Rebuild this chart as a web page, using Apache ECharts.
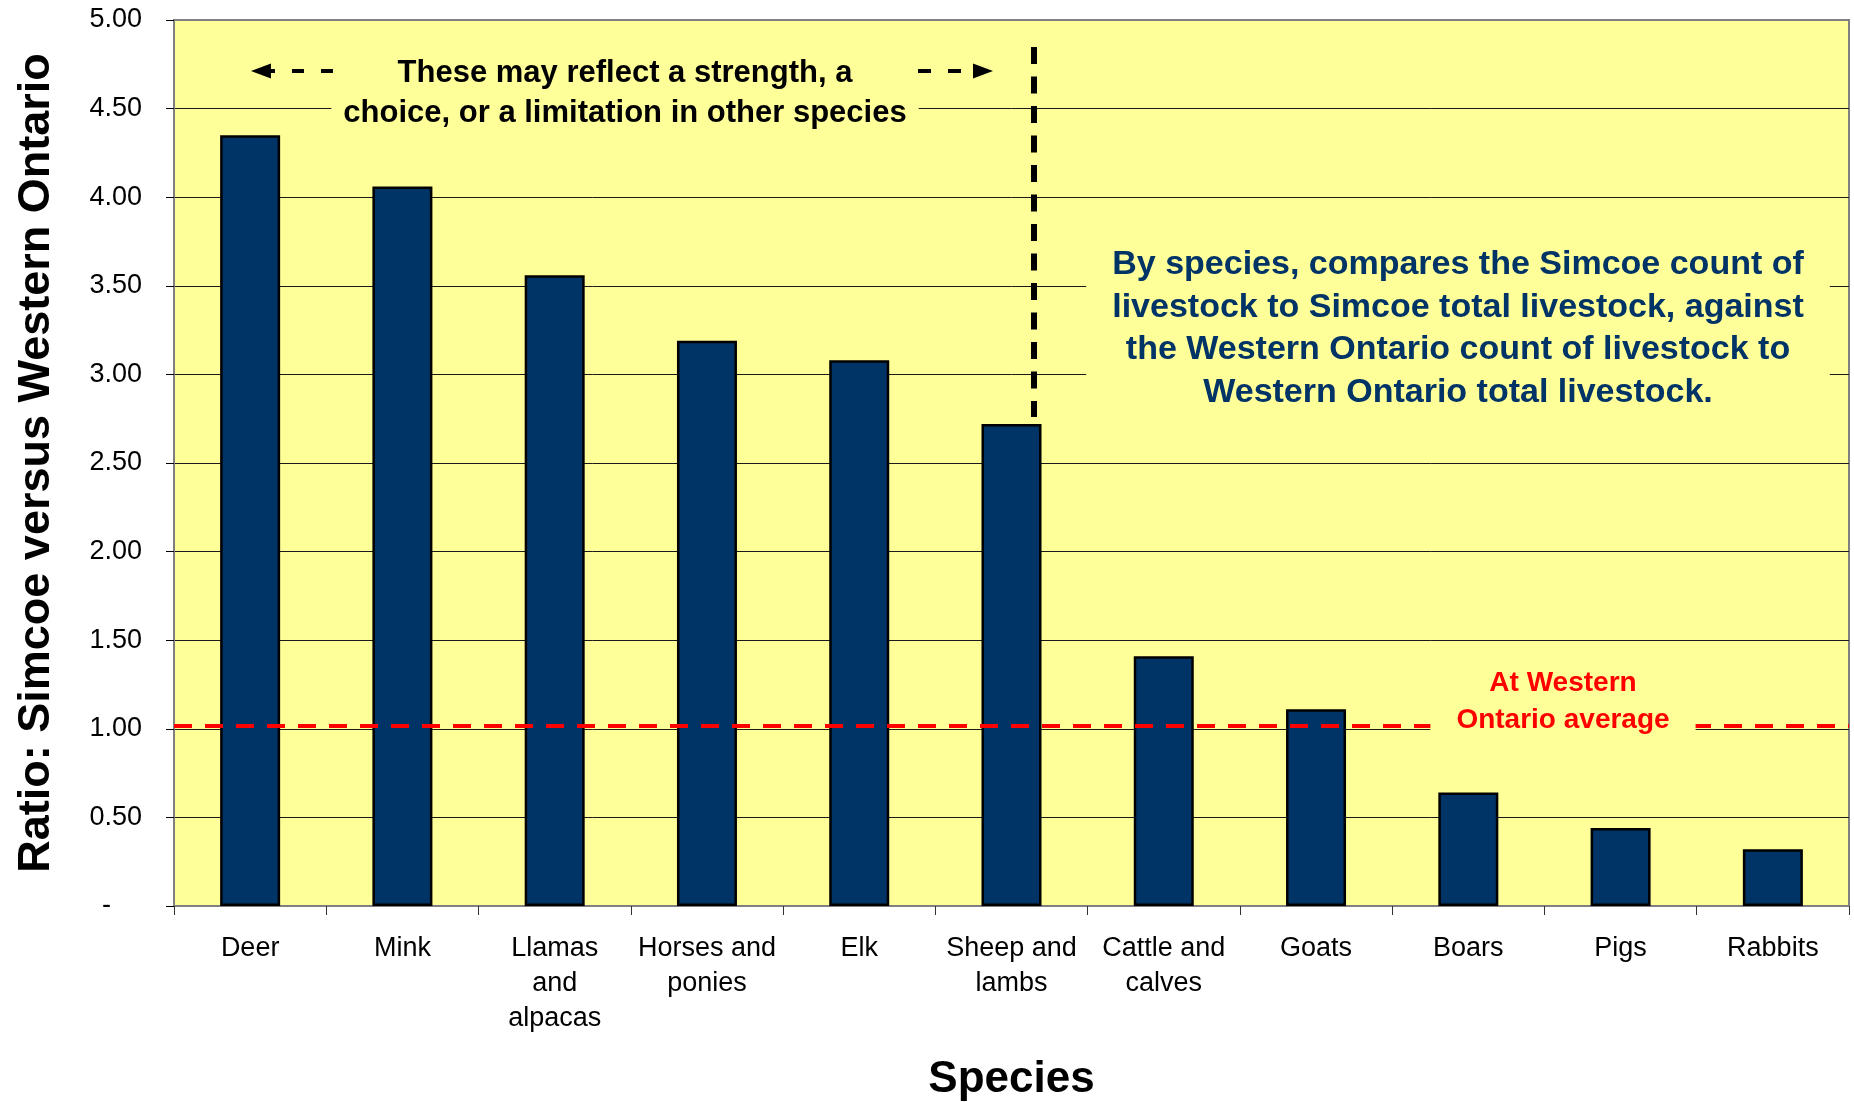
<!DOCTYPE html>
<html>
<head>
<meta charset="utf-8">
<title>Ratio: Simcoe versus Western Ontario by species</title>
<script src="https://cdn.jsdelivr.net/npm/echarts@6/dist/echarts.min.js"></script>
<style>
  html, body { margin: 0; padding: 0; background: #ffffff; }
  #chart { width: 1854px; height: 1102px; }
</style>
</head>
<body>
<div id="chart"></div>
<script>
// Species (x categories) and the Simcoe / Western Ontario livestock share ratio
const species = [
  'Deer', 'Mink', 'Llamas\nand\nalpacas', 'Horses and\nponies', 'Elk',
  'Sheep and\nlambs', 'Cattle and\ncalves', 'Goats', 'Boars', 'Pigs', 'Rabbits'
];
const ratios = [4.35, 4.06, 3.56, 3.19, 3.08, 2.72, 1.41, 1.11, 0.64, 0.44, 0.32];

// Value-axis ticks
const yTicks = { min: 0, max: 5, step: 0.5 };

// Reference level for the Western Ontario average
const averageLevel = [1.02];

const FONT = '"Liberation Sans", Arial, sans-serif';
const plotYellow = '#FFFF99';

// Divider between the over-represented species and the rest,
// placed on a hidden 0..11 helper axis that spans the category band.
const divider = { x: 5.648, top: 4.848, bottom: 2.76 };
const arrowLeft = { from: 1.044, to: 0.571, y: 4.712 };
const arrowRight = { from: 4.886, to: 5.313, y: 4.712 };

const chart = echarts.init(document.getElementById('chart'), null, { renderer: 'canvas' });

const annotationLine = (x1, y1, x2, y2, symbols, style) => ([
  { coord: [x1, y1], symbol: symbols[0] },
  { coord: [x2, y2], symbol: symbols[1], lineStyle: style }
]);

chart.setOption({
  animation: false,
  backgroundColor: '#ffffff',
  textStyle: { fontFamily: FONT },
  grid: {
    left: 174, right: 5, top: 20, bottom: 196,
    outerBoundsMode: 'none',
    containLabel: false,
    show: true,
    backgroundColor: plotYellow,
    borderColor: '#808080',
    borderWidth: 2
  },
  xAxis: [
    {
      type: 'category',
      data: species,
      boundaryGap: true,
      name: 'Species',
      nameLocation: 'middle',
      nameGap: 152,
      nameTextStyle: { fontFamily: FONT, fontSize: 44, fontWeight: 'bold', color: '#000' },
      axisLine: { show: true, lineStyle: { color: '#808080', width: 2 } },
      axisTick: { show: true, length: 9, lineStyle: { color: '#333', width: 1 } },
      axisLabel: {
        interval: 0, fontFamily: FONT, fontSize: 27, color: '#000',
        margin: 25, lineHeight: 35, align: 'center'
      },
      splitLine: { show: false }
    },
    {
      type: 'value', min: 0, max: 11, show: false,
      axisLine: { show: false }, splitLine: { show: false }
    }
  ],
  yAxis: {
    type: 'value',
    min: yTicks.min, max: yTicks.max, interval: yTicks.step,
    name: 'Ratio: Simcoe versus Western Ontario',
    nameLocation: 'middle',
    nameGap: 115,
    nameTextStyle: { fontFamily: FONT, fontSize: 45, fontWeight: 'bold', color: '#000' },
    axisLine: { show: true, lineStyle: { color: '#808080', width: 2 } },
    axisTick: { show: true, inside: false, length: 8, lineStyle: { color: '#000', width: 1 } },
    axisLabel: {
      fontFamily: FONT, fontSize: 27, color: '#000', margin: 32,
      formatter: v => (v === 0 ? '{d|-}' : v.toFixed(2)),
      rich: { d: { fontFamily: FONT, fontSize: 27, color: '#000', padding: [0, 31, 0, 0] } }
    },
    splitLine: { show: true, showMaxLine: false, lineStyle: { color: '#1a1a1a', width: 1 } }
  },
  series: [
    {
      name: 'Ratio',
      type: 'bar',
      data: ratios,
      barWidth: 60,
      itemStyle: { color: '#003366', borderColor: '#000000', borderWidth: 2.5 },
      emphasis: { disabled: true },
      markLine: {
        silent: true,
        symbol: 'none',
        label: { show: false },
        lineStyle: { color: '#FF0000', width: 4, type: [18, 13], cap: 'butt' },
        data: averageLevel.map(v => ({ yAxis: v }))
      }
    },
    {
      name: 'Guides',
      type: 'line',
      xAxisIndex: 1,
      yAxisIndex: 0,
      data: [],
      z: 60,
      markLine: {
        silent: true,
        z: 60,
        label: { show: false },
        symbolSize: [15, 20],
        lineStyle: { color: '#000', width: 4, type: [12, 17], cap: 'butt' },
        data: [
          annotationLine(divider.x, divider.top, divider.x, divider.bottom, ['none', 'none'],
            { color: '#000', width: 6, type: [17, 12.5], cap: 'butt' }),
          annotationLine(arrowLeft.from, arrowLeft.y, arrowLeft.to, arrowLeft.y, ['none', 'triangle'],
            { color: '#000', width: 4, type: [12, 17], cap: 'butt' }),
          annotationLine(arrowRight.from, arrowRight.y, arrowRight.to, arrowRight.y, ['none', 'triangle'],
            { color: '#000', width: 4, type: [13, 17], cap: 'butt' })
        ]
      }
    }
  ],
  graphic: [
    {
      type: 'text', z: 50,
      x: 625, y: 93.5,
      style: {
        text: 'These may reflect a strength, a\nchoice, or a limitation in other species',
        font: 'bold 31px ' + FONT,
        fill: '#000',
        align: 'center', verticalAlign: 'middle',
        lineHeight: 40,
        backgroundColor: plotYellow,
        padding: [0, 12, 0, 12]
      }
    },
    {
      type: 'text', z: 50,
      x: 1458, y: 328.5,
      style: {
        text: 'By species, compares the Simcoe count of\nlivestock to Simcoe total livestock, against\nthe Western Ontario count of livestock to\nWestern Ontario total livestock.',
        font: 'bold 34px ' + FONT,
        fill: '#003366',
        align: 'center', verticalAlign: 'middle',
        lineHeight: 42.5,
        backgroundColor: plotYellow,
        padding: [0, 26, 0, 26]
      }
    },
    {
      type: 'text', z: 50,
      x: 1563, y: 702,
      style: {
        text: 'At Western\nOntario average',
        font: 'bold 28px ' + FONT,
        fill: '#FF0000',
        align: 'center', verticalAlign: 'middle',
        lineHeight: 37,
        backgroundColor: plotYellow,
        padding: [0, 26, 0, 26]
      }
    }
  ]
});
</script>
</body>
</html>
